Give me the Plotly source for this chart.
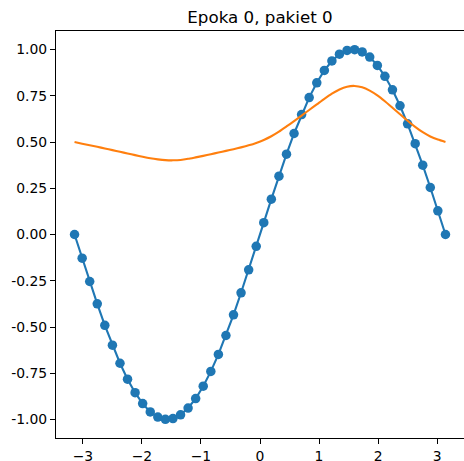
import plotly.graph_objects as go

# x positions (50 samples from -pi to pi)
x_vals = [-3.142, -3.013, -2.885, -2.757, -2.629, -2.500, -2.372, -2.244, -2.116, -1.988,
          -1.859, -1.731, -1.603, -1.475, -1.346, -1.218, -1.090, -0.962, -0.833, -0.705,
          -0.577, -0.449, -0.321, -0.192, -0.064, 0.064, 0.192, 0.321, 0.449, 0.577,
          0.705, 0.833, 0.962, 1.090, 1.218, 1.346, 1.475, 1.603, 1.731, 1.859,
          1.988, 2.116, 2.244, 2.372, 2.500, 2.629, 2.757, 2.885, 3.013, 3.142]

# target values (blue markers + line)
target_vals = [0.0, -0.128, -0.254, -0.375, -0.491, -0.598, -0.696, -0.782, -0.855, -0.914,
               -0.959, -0.987, -0.999, -0.995, -0.975, -0.938, -0.887, -0.820, -0.740, -0.648,
               -0.546, -0.434, -0.315, -0.191, -0.064, 0.064, 0.191, 0.315, 0.434, 0.546,
               0.648, 0.740, 0.820, 0.887, 0.938, 0.975, 0.995, 0.999, 0.987, 0.959,
               0.914, 0.855, 0.782, 0.696, 0.598, 0.491, 0.375, 0.254, 0.128, 0.0]

# model prediction (orange line)
pred_vals = [0.500, 0.491, 0.482, 0.474, 0.465, 0.456, 0.447, 0.438, 0.429, 0.420,
             0.412, 0.406, 0.402, 0.401, 0.403, 0.409, 0.417, 0.425, 0.434, 0.443,
             0.452, 0.461, 0.471, 0.482, 0.495, 0.511, 0.531, 0.556, 0.584, 0.613,
             0.643, 0.673, 0.703, 0.733, 0.761, 0.784, 0.799, 0.803, 0.796, 0.778,
             0.752, 0.720, 0.685, 0.650, 0.615, 0.582, 0.553, 0.530, 0.513, 0.500]

x_ticks = [-3, -2, -1, 0, 1, 2, 3]
x_tick_labels = ["\u22123", "\u22122", "\u22121", "0", "1", "2", "3"]
y_ticks = [-1.0, -0.75, -0.5, -0.25, 0.0, 0.25, 0.5, 0.75, 1.0]
y_tick_labels = ["-1.00", "-0.75", "-0.50", "-0.25", "0.00", "0.25", "0.50", "0.75", "1.00"]

title_text = "Epoka 0, pakiet 0"

BLUE = "#1f77b4"
ORANGE = "#ff7f0e"

fig = go.Figure()
fig.add_trace(go.Scatter(
    x=x_vals, y=target_vals, mode="lines+markers",
    line=dict(color=BLUE, width=2.1),
    marker=dict(color=BLUE, size=9.5, line=dict(width=0)),
    showlegend=False,
))
fig.add_trace(go.Scatter(
    x=x_vals, y=pred_vals, mode="lines",
    line=dict(color=ORANGE, width=2.1, shape="spline", smoothing=0.6),
    showlegend=False,
))

axis_common = dict(
    showgrid=False, zeroline=False, showline=True, linecolor="black", linewidth=1.1,
    ticks="outside", ticklen=5, tickwidth=1.1, tickcolor="black", automargin=False,
    tickfont=dict(family="DejaVu Sans", size=13.9, color="black"),
)

fig.update_layout(
    width=464, height=461,
    margin=dict(l=56, r=0, t=31, b=23, autoexpand=False),
    paper_bgcolor="white", plot_bgcolor="white",
    font=dict(family="DejaVu Sans", color="black"),
    title=dict(text=title_text, x=260 / 464, xref="container", xanchor="center",
               y=1 - 17 / 461, yref="container", yanchor="middle",
               font=dict(family="DejaVu Sans", size=16.7, color="black")),
    xaxis=dict(range=[-3.456, 3.456], tickvals=x_ticks, ticktext=x_tick_labels,
               mirror=True, **axis_common),
    yaxis=dict(range=[-1.1, 1.1], tickvals=y_ticks, ticktext=y_tick_labels,
               mirror=False, **axis_common),
)

fig.write_html("out.html")
